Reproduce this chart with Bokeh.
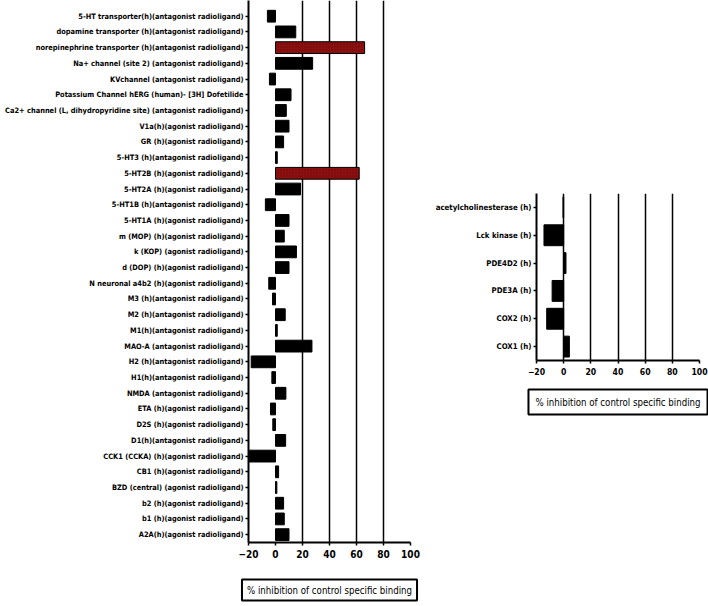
from bokeh.plotting import figure
from bokeh.models import Range1d, FixedTicker, Title, Spacer, ColumnDataSource
from bokeh.layouts import row, column
from bokeh.embed import file_html
from bokeh.resources import INLINE

LEFT_LABELS = [
    "5-HT transporter(h)(antagonist radioligand)",
    "dopamine transporter (h)(antagonist radioligand)",
    "norepinephrine transporter (h)(antagonist radioligand)",
    "Na+ channel (site 2) (antagonist radioligand)",
    "KVchannel (antagonist radioligand)",
    "Potassium Channel hERG (human)- [3H] Dofetilide",
    "Ca2+ channel (L, dihydropyridine site) (antagonist radioligand)",
    "V1a(h)(agonist radioligand)",
    "GR (h)(agonist radioligand)",
    "5-HT3 (h)(antagonist radioligand)",
    "5-HT2B (h)(agonist radioligand)",
    "5-HT2A (h)(agonist radioligand)",
    "5-HT1B (h)(antagonist radioligand)",
    "5-HT1A (h)(agonist radioligand)",
    "m (MOP) (h)(agonist radioligand)",
    "k (KOP) (agonist radioligand)",
    "d (DOP) (h)(agonist radioligand)",
    "N neuronal a4b2 (h)(agonist radioligand)",
    "M3 (h)(antagonist radioligand)",
    "M2 (h)(antagonist radioligand)",
    "M1(h)(antagonist radioligand)",
    "MAO-A (antagonist radioligand)",
    "H2 (h)(antagonist radioligand)",
    "H1(h)(antagonist radioligand)",
    "NMDA (antagonist radioligand)",
    "ETA (h)(agonist radioligand)",
    "D2S (h)(agonist radioligand)",
    "D1(h)(antagonist radioligand)",
    "CCK1 (CCKA) (h)(agonist radioligand)",
    "CB1 (h)(agonist radioligand)",
    "BZD (central) (agonist radioligand)",
    "b2 (h)(agonist radioligand)",
    "b1 (h)(agonist radioligand)",
    "A2A(h)(agonist radioligand)",
]
LEFT_VALUES = [-6, 15, 66, 27.5, -4.5, 11.5, 8, 10, 6, 1.3, 62, 18.5, -7.5, 10,
               6.5, 15.5, 10, -5, -2.2, 7.2, 1.3, 27, -18, -2.7, 7.7, -3.7, -2,
               7.5, -19.5, 2.3, 1, 6, 6.5, 10]

RIGHT_LABELS = [
    "acetylcholinesterase (h)",
    "Lck kinase (h)",
    "PDE4D2 (h)",
    "PDE3A (h)",
    "COX2 (h)",
    "COX1 (h)",
]
RIGHT_VALUES = [-0.5, -14.5, 1.7, -8.5, -12.5, 4.2]

X_TICKS = [-20, 0, 20, 40, 60, 80, 100]
LEFT_GRID = [20, 40, 60, 80, 100]
RIGHT_GRID = [0, 20, 40, 60, 80, 100]
X_TITLE = "% inhibition of control specific binding"

FONT = "DejaVu Sans Condensed"
RED = "#8c1010"


def make(labels, values, grid, frame_w, frame_h, border_l, border_r,
         top_extra, label_size, tick_size, title_size, title_standoff,
         title_pad):
    n = len(labels)
    ypos = [n - 1 - i for i in range(n)]
    src = ColumnDataSource(dict(
        y=ypos, right=values,
        color=[RED if v > 50 else "black" for v in values],
        hatch=["dot" if v > 50 else " " for v in values],
    ))
    p = figure(y_range=Range1d(-0.5, n - 0.5 + top_extra),
               x_range=Range1d(-20, 100),
               frame_width=frame_w, frame_height=frame_h,
               min_border_left=border_l, min_border_right=border_r,
               min_border_top=0, min_border_bottom=0,
               output_backend="svg", toolbar_location=None)
    p.hbar(y="y", left=0, right="right", height=0.75, source=src,
           fill_color="color", line_color="black", line_width=1,
           hatch_pattern="hatch", hatch_color="#4a0000", hatch_scale=3,
           hatch_alpha=0.5)
    p.outline_line_color = None
    p.background_fill_color = "white"
    p.ygrid.grid_line_color = None
    p.xgrid.ticker = FixedTicker(ticks=grid)
    p.xgrid.grid_line_color = "black"
    p.xgrid.grid_line_width = 1.5
    p.xaxis.ticker = FixedTicker(ticks=X_TICKS)
    p.yaxis.ticker = FixedTicker(ticks=ypos)
    p.yaxis.major_label_overrides = {y: lab for y, lab in zip(ypos, labels)}
    for ax in (p.xaxis[0], p.yaxis[0]):
        ax.axis_line_color = "black"
        ax.axis_line_width = 2
        ax.major_tick_line_color = "black"
        ax.major_tick_line_width = 1.5
        ax.major_tick_out = 3
        ax.major_tick_in = 0
        ax.minor_tick_line_color = None
        ax.major_label_text_font = FONT
        ax.major_label_text_font_style = "bold"
        ax.major_label_text_color = "black"
    p.yaxis.major_label_text_font_size = label_size
    p.yaxis.major_label_standoff = 2
    p.xaxis.major_label_text_font_size = tick_size
    p.xaxis.major_label_standoff = 4
    t = Title(text=X_TITLE, align="center", text_font=FONT,
              text_font_size=title_size, text_font_style="normal",
              text_color="black", border_line_color="black",
              border_line_width=2, background_fill_color="white",
              padding=title_pad, standoff=title_standoff)
    p.add_layout(t, "below")
    return p


left = make(LEFT_LABELS, LEFT_VALUES, LEFT_GRID, 162, 542, 248, 12, 0.5,
            "7.4px", "10px", "9.6px", 34, 5)
right = make(RIGHT_LABELS, RIGHT_VALUES, RIGHT_GRID, 163, 167, 114, 9, 0,
             "7.8px", "8.6px", "9.6px", 20, 7)

layout = row(left, column(Spacer(width=286, height=193), right))
open("out.html", "w").write(file_html(layout, INLINE))
